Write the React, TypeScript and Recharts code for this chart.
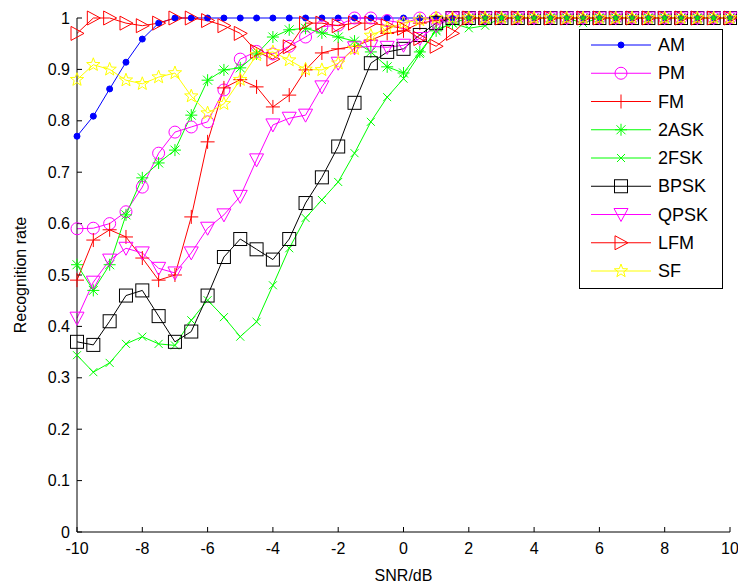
import React from 'react'
import { LineChart, Line, XAxis, YAxis } from 'recharts'

const snr = [
  -10, -9.5, -9, -8.5, -8, -7.5, -7, -6.5, -6, -5.5, -5, -4.5, -4, -3.5, -3, -2.5, -2, -1.5, -1, -0.5,
  0, 0.5, 1, 1.5, 2, 2.5, 3, 3.5, 4, 4.5, 5, 5.5, 6, 6.5, 7, 7.5, 8, 8.5, 9, 9.5, 10,
]

const am = [
  0.77, 0.809, 0.862, 0.914, 0.959, 0.99, 1, 1, 1, 1, 1, 1, 1, 1, 1, 1, 1, 1, 1, 1,
  1, 1, 1, 1, 1, 1, 1, 1, 1, 1, 1, 1, 1, 1, 1, 1, 1, 1, 1, 1, 1,
]
const pm = [
  0.59, 0.591, 0.6, 0.623, 0.671, 0.737, 0.778, 0.788, 0.798, 0.86, 0.92, 0.935, 0.93, 0.945, 0.963, 0.983, 0.986, 1, 1, 0.995,
  0.99, 1, 1, 1, 1, 1, 1, 1, 1, 1, 1, 1, 1, 1, 1, 1, 1, 1, 1, 1, 1,
]
const fm = [
  0.49, 0.568, 0.588, 0.574, 0.533, 0.49, 0.5, 0.613, 0.759, 0.864, 0.88, 0.866, 0.827, 0.85, 0.899, 0.932, 0.94, 0.945, 0.957, 0.97,
  0.975, 0.99, 0.995, 1, 1, 1, 1, 1, 1, 1, 1, 1, 1, 1, 1, 1, 1, 1, 1, 1, 1,
]
const ask2 = [
  0.52, 0.47, 0.52, 0.617, 0.689, 0.718, 0.743, 0.811, 0.879, 0.899, 0.903, 0.93, 0.963, 0.977, 0.98, 0.971, 0.963, 0.955, 0.934, 0.905,
  0.893, 0.934, 0.975, 0.99, 1, 1, 1, 1, 1, 1, 1, 1, 1, 1, 1, 1, 1, 1, 1, 1, 1,
]
const fsk2 = [
  0.344, 0.311, 0.329, 0.366, 0.38, 0.366, 0.363, 0.412, 0.451, 0.418, 0.38, 0.409, 0.48, 0.552, 0.611, 0.646, 0.681, 0.737, 0.798, 0.846,
  0.882, 0.93, 0.977, 0.99, 0.98, 0.985, 1, 1, 1, 1, 1, 0.99, 1, 1, 1, 1, 1, 1, 1, 1, 1,
]
const bpsk = [
  0.37, 0.364, 0.41, 0.46, 0.47, 0.42, 0.37, 0.39, 0.46, 0.535, 0.57, 0.55, 0.53, 0.57, 0.64, 0.69, 0.75, 0.835, 0.912, 0.934,
  0.94, 0.967, 0.99, 1, 1, 1, 1, 1, 1, 1, 1, 1, 1, 1, 1, 1, 1, 1, 1, 1, 1,
]
const qpsk = [
  0.416, 0.486, 0.529, 0.552, 0.543, 0.513, 0.504, 0.543, 0.591, 0.617, 0.653, 0.724, 0.792, 0.805, 0.811, 0.866, 0.912, 0.942, 0.945, 0.943,
  0.947, 0.96, 0.985, 1, 1, 1, 1, 1, 1, 1, 1, 1, 1, 1, 1, 1, 1, 1, 1, 1, 1,
]
const lfm = [
  0.97, 1, 1, 0.99, 0.985, 0.99, 1, 1, 0.995, 0.985, 0.97, 0.935, 0.92, 0.944, 0.99, 0.99, 0.985, 0.99, 0.99, 0.985,
  0.98, 0.96, 0.945, 0.97, 1, 1, 1, 1, 1, 1, 1, 1, 1, 1, 1, 1, 1, 1, 1, 1, 1,
]
const sf = [
  0.88, 0.909, 0.9, 0.879, 0.872, 0.885, 0.893, 0.848, 0.815, 0.833, 0.88, 0.928, 0.934, 0.918, 0.9, 0.899, 0.912, 0.94, 0.966, 0.98,
  0.99, 0.996, 1, 1, 1, 1, 1, 1, 1, 1, 1, 1, 1, 1, 1, 1, 1, 1, 1, 1, 1,
]

const xTicks = [-10, -8, -6, -4, -2, 0, 2, 4, 6, 8, 10]
const yTicks = [0, 0.1, 0.2, 0.3, 0.4, 0.5, 0.6, 0.7, 0.8, 0.9, 1]

type Shape = 'dot' | 'circle' | 'plus' | 'asterisk' | 'x' | 'square' | 'tridown' | 'triright' | 'star'

const series: { key: string; values: number[]; color: string; shape: Shape }[] = [
  { key: 'AM', values: am, color: '#0000ff', shape: 'dot' },
  { key: 'PM', values: pm, color: '#ff00ff', shape: 'circle' },
  { key: 'FM', values: fm, color: '#ff0000', shape: 'plus' },
  { key: '2ASK', values: ask2, color: '#00ff00', shape: 'asterisk' },
  { key: '2FSK', values: fsk2, color: '#00ff00', shape: 'x' },
  { key: 'BPSK', values: bpsk, color: '#000000', shape: 'square' },
  { key: 'QPSK', values: qpsk, color: '#ff00ff', shape: 'tridown' },
  { key: 'LFM', values: lfm, color: '#ff0000', shape: 'triright' },
  { key: 'SF', values: sf, color: '#ffff00', shape: 'star' },
]

const data = snr.map((x, i) => {
  const row: Record<string, number> = { snr: x }
  series.forEach((s) => (row[s.key] = s.values[i]))
  return row
})

const FONT = 'Arial, "Liberation Sans", sans-serif'

function marker(shape: Shape, color: string, cx: number, cy: number, key?: React.Key) {
  const st = { stroke: color, strokeWidth: 1, fill: 'none' }
  switch (shape) {
    case 'dot':
      return <circle key={key} cx={cx} cy={cy} r={3} fill={color} stroke={color} />
    case 'circle':
      return <circle key={key} cx={cx} cy={cy} r={6} {...st} />
    case 'plus':
      return <path key={key} d={`M${cx - 7},${cy}H${cx + 7}M${cx},${cy - 7}V${cy + 7}`} {...st} />
    case 'asterisk':
      return (
        <path
          key={key}
          d={`M${cx - 6},${cy}H${cx + 6}M${cx},${cy - 6}V${cy + 6}M${cx - 4.5},${cy - 4.5}L${cx + 4.5},${cy + 4.5}M${cx - 4.5},${cy + 4.5}L${cx + 4.5},${cy - 4.5}`}
          {...st}
        />
      )
    case 'x':
      return <path key={key} d={`M${cx - 4},${cy - 4}L${cx + 4},${cy + 4}M${cx - 4},${cy + 4}L${cx + 4},${cy - 4}`} {...st} />
    case 'square':
      return <rect key={key} x={cx - 6.5} y={cy - 6.5} width={13} height={13} {...st} />
    case 'tridown':
      return <polygon key={key} points={`${cx - 7},${cy - 6} ${cx + 7},${cy - 6} ${cx},${cy + 7}`} {...st} />
    case 'triright':
      return <polygon key={key} points={`${cx - 6},${cy - 7} ${cx - 6},${cy + 7} ${cx + 7},${cy}`} {...st} />
    case 'star': {
      const pts: string[] = []
      for (let k = 0; k < 10; k++) {
        const r = k % 2 === 0 ? 7 : 2.9
        const a = -Math.PI / 2 + (k * Math.PI) / 5
        pts.push(`${cx + r * Math.cos(a)},${cy + r * Math.sin(a)}`)
      }
      return <polygon key={key} points={pts.join(' ')} {...st} />
    }
  }
}

// legend drawn on top of the plot, like matlab's 'NorthEast' box
function LegendBox() {
  const rowH = 28.25
  return (
    <svg width={144} height={260} style={{ display: 'block' }}>
      <rect x={0.5} y={0.5} width={143} height={259} fill="#fff" stroke="#000" />
      {series.map((s, i) => {
        const y = 16 + i * rowH
        return (
          <g key={s.key}>
            <line x1={12} x2={72} y1={y} y2={y} stroke={s.color} />
            {marker(s.shape, s.color, 42, y)}
            <text x={79} y={y + 6} fontSize={18} fontFamily={FONT} fill="#000">
              {s.key}
            </text>
          </g>
        )
      })}
    </svg>
  )
}

const fmtY = (v: number) => (v === 0 || v === 1 ? String(v) : v.toFixed(1))
const tickStyle = { fontSize: 16, fontFamily: FONT, fill: '#000' }

export default function App() {
  return (
    <div style={{ position: 'absolute', left: 0, top: 0, width: 738, height: 585, background: '#fff' }}>
      <LineChart width={738} height={585} data={data} margin={{ top: 18, right: 8, bottom: 0, left: 0 }}>
        <XAxis
          dataKey="snr"
          type="number"
          domain={[-10, 10]}
          ticks={xTicks}
          interval={0}
          stroke="#000"
          tickSize={-5}
          tickMargin={16}
          tick={tickStyle}
          height={53}
          label={{ value: 'SNR/dB', position: 'insideBottom', offset: 4, style: { fontSize: 16, fontFamily: FONT, fill: '#000' } }}
        />
        <XAxis
          xAxisId="top"
          orientation="top"
          type="number"
          domain={[-10, 10]}
          ticks={xTicks}
          interval={0}
          stroke="#000"
          tickSize={-5}
          height={0}
          tick={() => <g />}
        />
        <YAxis
          type="number"
          domain={[0, 1]}
          ticks={yTicks}
          interval={0}
          stroke="#000"
          tickSize={-5}
          tickMargin={12}
          tick={tickStyle}
          tickFormatter={fmtY}
          width={77}
          label={{ value: 'Recognition rate', angle: -90, position: 'insideLeft', offset: 20, style: { textAnchor: 'middle', fontSize: 16, fontFamily: FONT, fill: '#000' } }}
        />
        <YAxis
          yAxisId="right"
          orientation="right"
          type="number"
          domain={[0, 1]}
          ticks={yTicks}
          interval={0}
          stroke="#000"
          tickSize={-5}
          width={0}
          tick={() => <g />}
        />
        {series.map((s) => (
          <Line
            key={s.key}
            dataKey={s.key}
            type="linear"
            stroke={s.color}
            strokeWidth={1}
            isAnimationActive={false}
            activeDot={false}
            dot={(p: any) => marker(s.shape, s.color, p.cx, p.cy, p.index)}
          />
        ))}
      </LineChart>
      <div style={{ position: 'absolute', left: 579, top: 29 }}>
        <LegendBox />
      </div>
    </div>
  )
}
